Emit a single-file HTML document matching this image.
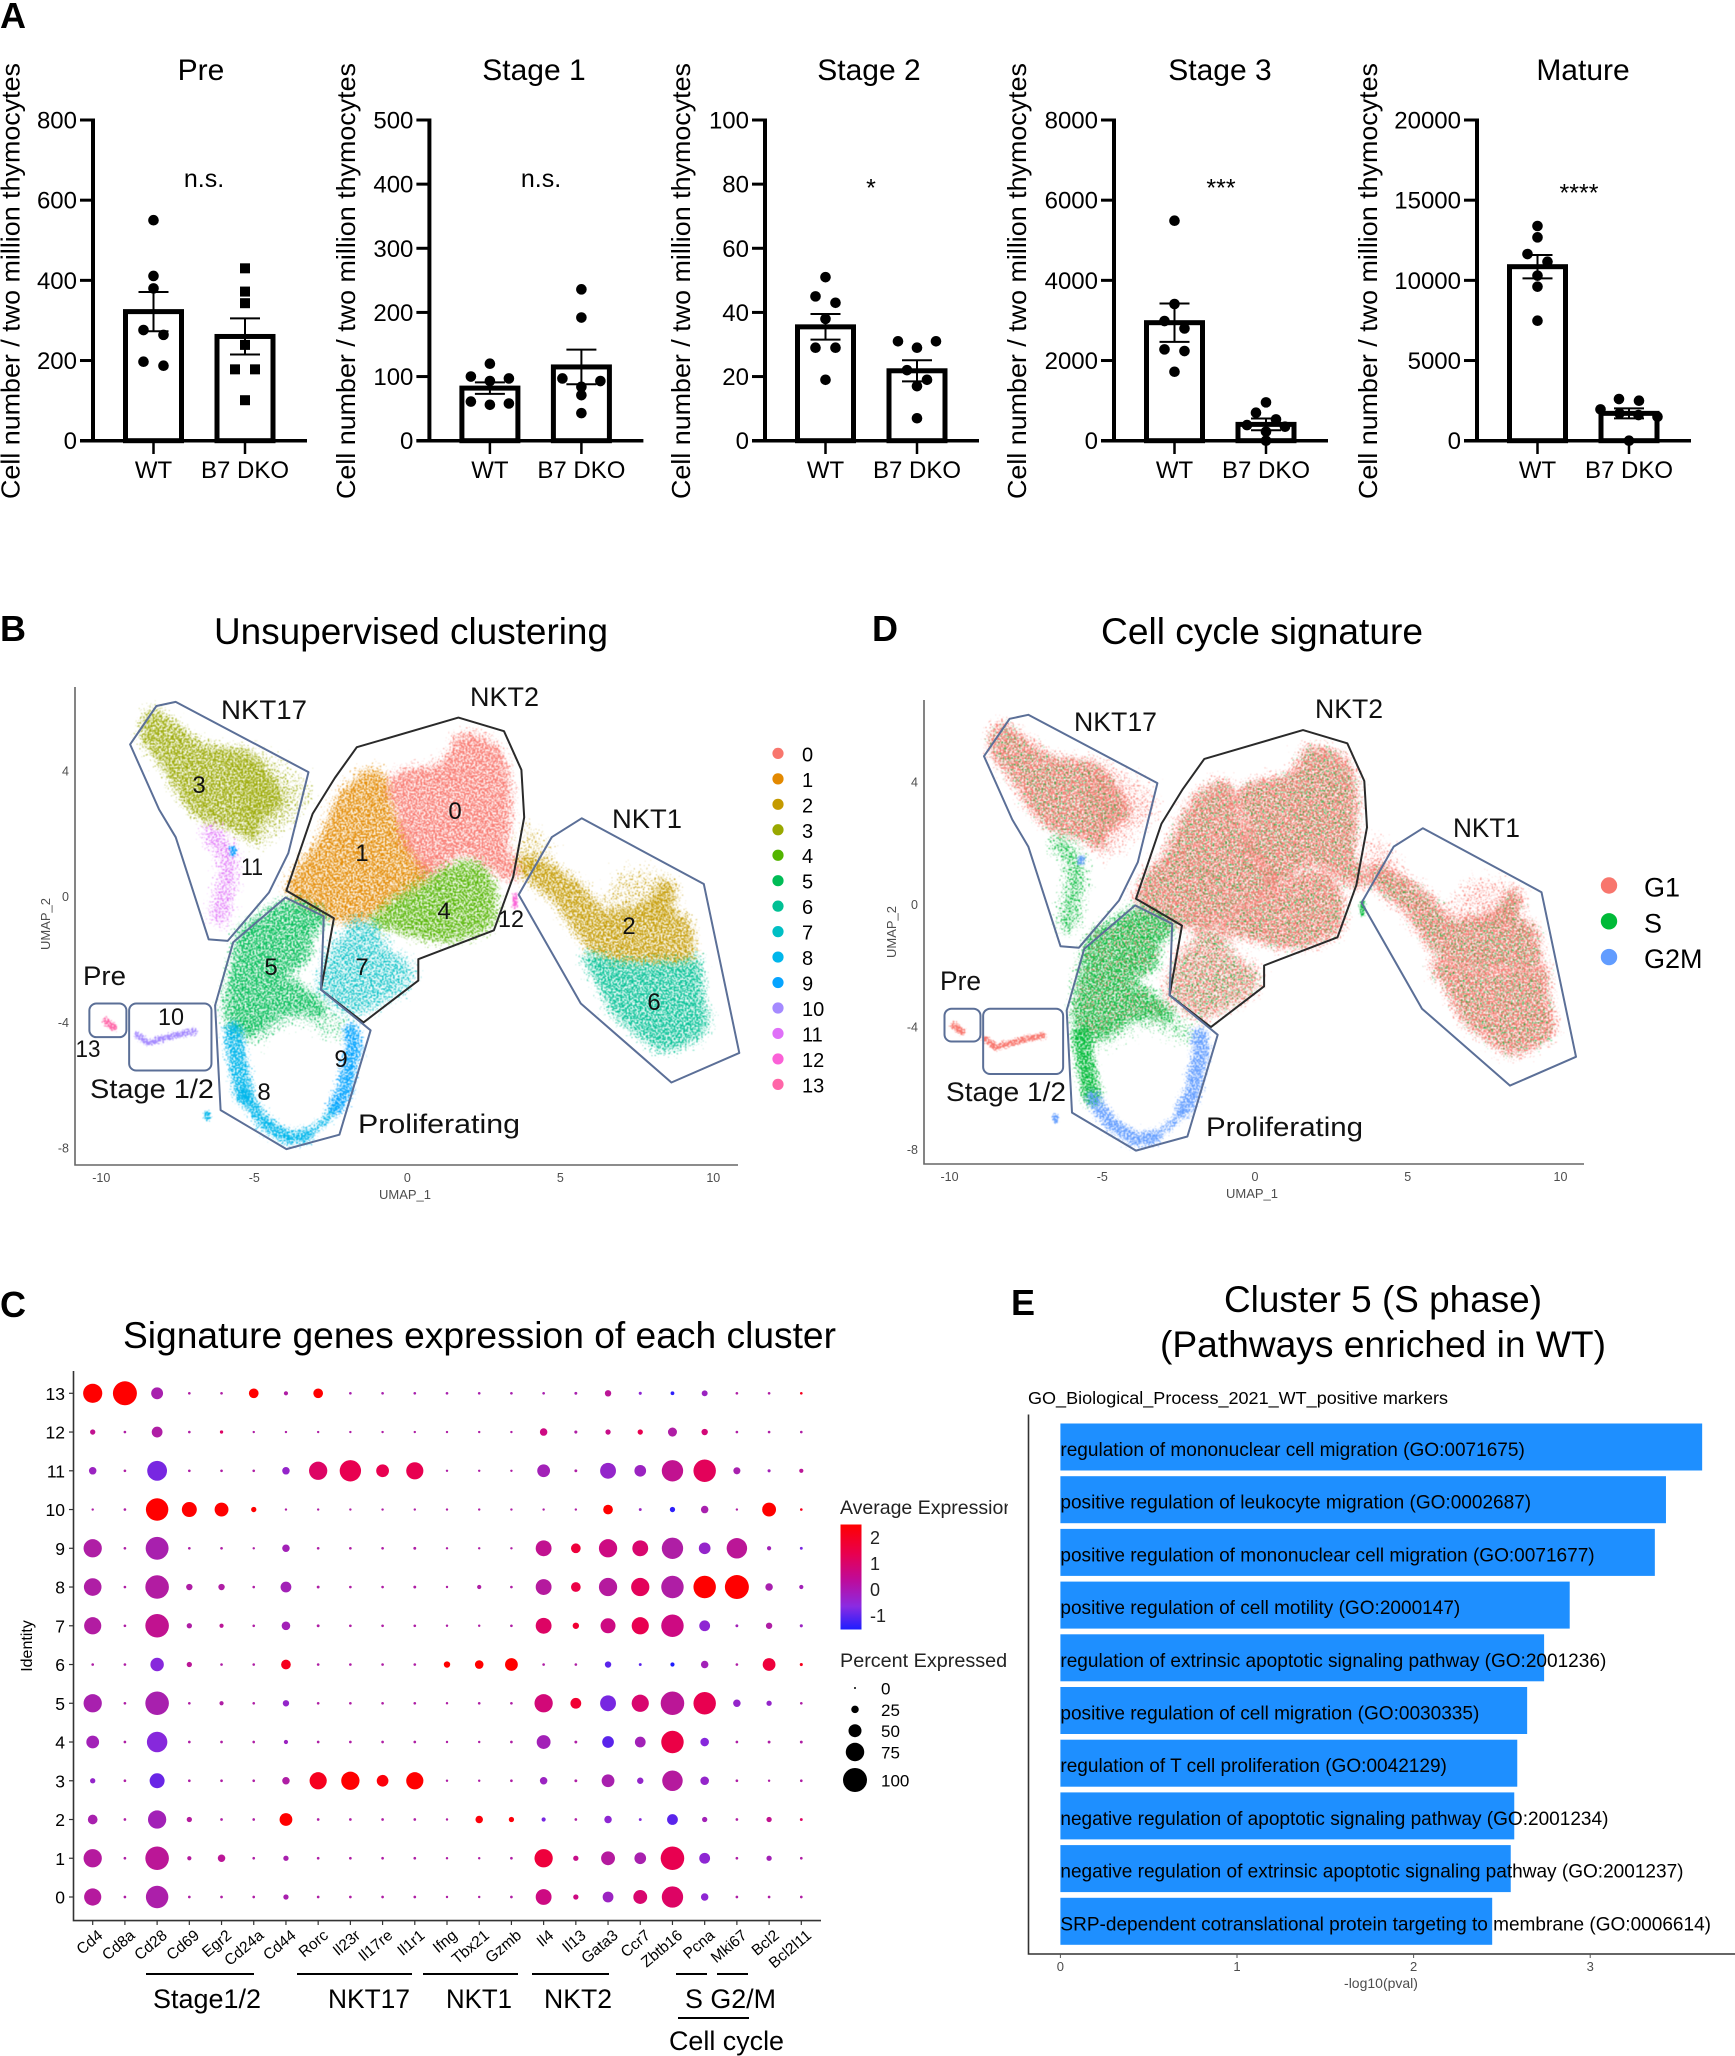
<!DOCTYPE html>
<html lang="en">
<head>
<meta charset="utf-8">
<title>NKT thymocyte figure</title>
<style>
html,body{margin:0;padding:0;background:#fff;}
svg{display:block;font-family:"Liberation Sans",Arial,sans-serif;}
text{fill:#000;}
.gray{fill:#4d4d4d;}
.ann{font-size:27px;fill:#111;}
.num{font-size:24px;fill:#111;text-anchor:middle;}
.panel{font-size:36px;font-weight:bold;}
.title{font-size:37px;}
.leg{font-size:18px;fill:#222;}
</style>
</head>
<body>
<svg id="fig" xmlns="http://www.w3.org/2000/svg" width="1735" height="2056" viewBox="0 0 1735 2056">
<defs id="defs">
<linearGradient id="exprGrad" x1="0" y1="0" x2="0" y2="1">
<stop offset="0" stop-color="#ff0000"/><stop offset=".28" stop-color="#e8004f"/><stop offset=".52" stop-color="#c00a98"/><stop offset=".78" stop-color="#8a2be2"/><stop offset="1" stop-color="#1e1eff"/>
</linearGradient>
<clipPath id="legendClip"><rect x="830" y="1490" width="178" height="40"/></clipPath>
</defs>
<rect width="1735" height="2056" fill="#fff"/>

<text class="panel" x="0" y="28">A</text>
<text class="panel" x="0" y="641">B</text>
<text class="panel" x="872" y="641">D</text>
<text class="panel" x="0" y="1317">C</text>
<text class="panel" x="1011" y="1315">E</text>

<text class="title" x="214" y="644" textLength="394" lengthAdjust="spacingAndGlyphs">Unsupervised clustering</text>
<text class="title" x="1101" y="644" textLength="322" lengthAdjust="spacingAndGlyphs">Cell cycle signature</text>
<text class="title" x="123" y="1348" textLength="713" lengthAdjust="spacingAndGlyphs">Signature genes expression of each cluster</text>
<text class="title" x="1224" y="1312" textLength="318" lengthAdjust="spacingAndGlyphs">Cluster 5 (S phase)</text>
<text class="title" x="1160" y="1357" textLength="446" lengthAdjust="spacingAndGlyphs">(Pathways enriched in WT)</text>

<g id="panelA"></g>

<g id="panelB"></g>
<g>
<text class="ann" x="221" y="719" textLength="86" lengthAdjust="spacingAndGlyphs">NKT17</text>
<text class="ann" x="470" y="706" textLength="69" lengthAdjust="spacingAndGlyphs">NKT2</text>
<text class="ann" x="612" y="828" textLength="70" lengthAdjust="spacingAndGlyphs">NKT1</text>
<text class="ann" x="83" y="985" textLength="43" lengthAdjust="spacingAndGlyphs">Pre</text>
<text class="ann" x="90" y="1098" textLength="124" lengthAdjust="spacingAndGlyphs">Stage 1/2</text>
<text class="ann" x="358" y="1133" textLength="162" lengthAdjust="spacingAndGlyphs">Proliferating</text>
<text class="num" x="171" y="1025" textLength="26" lengthAdjust="spacingAndGlyphs">10</text>
<text class="num" x="88" y="1057" textLength="25" lengthAdjust="spacingAndGlyphs">13</text>
<text class="num" x="199" y="793">3</text>
<text class="num" x="252" y="875" textLength="22" lengthAdjust="spacingAndGlyphs">11</text>
<text class="num" x="455" y="819">0</text>
<text class="num" x="362" y="861">1</text>
<text class="num" x="444" y="919">4</text>
<text class="num" x="271" y="975">5</text>
<text class="num" x="362" y="975">7</text>
<text class="num" x="511" y="927" textLength="26" lengthAdjust="spacingAndGlyphs">12</text>
<text class="num" x="629" y="934">2</text>
<text class="num" x="654" y="1010">6</text>
<text class="num" x="341" y="1067">9</text>
<text class="num" x="264" y="1100">8</text>
</g>

<g id="panelD"></g>
<g>
<text class="ann" x="1074" y="731" textLength="83" lengthAdjust="spacingAndGlyphs">NKT17</text>
<text class="ann" x="1315" y="718" textLength="68" lengthAdjust="spacingAndGlyphs">NKT2</text>
<text class="ann" x="1453" y="837" textLength="67" lengthAdjust="spacingAndGlyphs">NKT1</text>
<text class="ann" x="940" y="990" textLength="41" lengthAdjust="spacingAndGlyphs">Pre</text>
<text class="ann" x="946" y="1101" textLength="120" lengthAdjust="spacingAndGlyphs">Stage 1/2</text>
<text class="ann" x="1206" y="1136" textLength="157" lengthAdjust="spacingAndGlyphs">Proliferating</text>
</g>

<g id="panelC"></g>
<g>
<line x1="146" y1="1974" x2="254" y2="1974" stroke="#000" stroke-width="2"/>
<line x1="297" y1="1974" x2="412" y2="1974" stroke="#000" stroke-width="2"/>
<line x1="423" y1="1974" x2="518" y2="1974" stroke="#000" stroke-width="2"/>
<line x1="532" y1="1974" x2="609" y2="1974" stroke="#000" stroke-width="2"/>
<line x1="676" y1="1974" x2="707" y2="1974" stroke="#000" stroke-width="2"/>
<line x1="717" y1="1974" x2="748" y2="1974" stroke="#000" stroke-width="2"/>
<line x1="678" y1="2018" x2="749" y2="2018" stroke="#000" stroke-width="2"/>
<text x="153" y="2008" font-size="27" textLength="108" lengthAdjust="spacingAndGlyphs">Stage1/2</text>
<text x="328" y="2008" font-size="27" textLength="82" lengthAdjust="spacingAndGlyphs">NKT17</text>
<text x="446" y="2008" font-size="27" textLength="66" lengthAdjust="spacingAndGlyphs">NKT1</text>
<text x="544" y="2008" font-size="27" textLength="68" lengthAdjust="spacingAndGlyphs">NKT2</text>
<text x="685" y="2008" font-size="27" textLength="91" lengthAdjust="spacingAndGlyphs">S G2/M</text>
<text x="669" y="2050" font-size="27" textLength="115" lengthAdjust="spacingAndGlyphs">Cell cycle</text>
</g>

<g>
<text class="leg" x="840" y="1514" style="font-size:19.5px" clip-path="url(#legendClip)">Average Expression</text>
<rect x="840.5" y="1524.5" width="21" height="105" fill="url(#exprGrad)"/>
<text class="leg" x="870" y="1544">2</text>
<text class="leg" x="870" y="1570">1</text>
<text class="leg" x="870" y="1596">0</text>
<text class="leg" x="870" y="1622">-1</text>
<text class="leg" x="840" y="1667" style="font-size:19.8px">Percent Expressed</text>
</g>
<g id="sizeLegend"></g>

<g id="panelE">
<text x="1028" y="1404" font-size="17.5" textLength="420" lengthAdjust="spacingAndGlyphs">GO_Biological_Process_2021_WT_positive markers</text>
<text class="gray" x="1381" y="1988" font-size="14" text-anchor="middle">-log10(pval)</text>
</g>
</svg>

<script>
// ---------- Panel A data ----------
const panelTitles = ['Pre', 'Stage 1', 'Stage 2', 'Stage 3', 'Mature'];
const panelMax = [800, 500, 100, 8000, 20000];
const panelTicks = [
  [0, 200, 400, 600, 800],
  [0, 100, 200, 300, 400, 500],
  [0, 20, 40, 60, 80, 100],
  [0, 2000, 4000, 6000, 8000],
  [0, 5000, 10000, 15000, 20000]
];
const panelSignificance = ['n.s.', 'n.s.', '*', '***', '****'];
const genotypes = ['WT', 'B7 DKO'];
const wtMeans = [322, 82, 35.5, 2944, 10852];
const koMeans = [260, 115, 21.8, 407, 1705];
const wtSems = [49, 9, 4, 478, 728];
const koSems = [45, 27, 3.3, 146, 312];
const wtPoints = [
  [550, 411, 380, 276, 264, 197, 187],
  [120, 100, 97, 93, 61, 58, 56],
  [51, 45, 43, 38, 29, 29, 19],
  [5488, 3410, 2985, 2800, 2278, 2237, 1720],
  [13389, 12682, 11642, 11164, 10291, 9605, 7484]
];
const koPoints = [
  [430, 372, 343, 239, 178, 178, 101],
  [236, 192, 97, 93, 84, 71, 43],
  [31, 31, 29, 22, 19, 17, 7],
  [956, 698, 532, 390, 349, 225, 0],
  [2598, 2495, 1954, 1705, 1600, 1497, 0]
];

// ---------- UMAP data (UMAP_1, UMAP_2) ----------
const umapXTicks = [-10, -5, 0, 5, 10];
const umapYTicks = [-8, -4, 0, 4];
const cluster0 = [[1.76,5.09],[2.65,4.91],[3.10,4.40],[3.28,3.52],[3.28,2.39],[3.19,1.64],[3.55,0.88],[3.28,0.63],[2.48,1.13],[1.76,1.38],[0.68,0.75],[0.32,1.26],[-0.13,1.89],[-0.30,2.89],[-0.57,3.40],[-0.22,3.90],[1.04,4.15],[1.49,4.65]];
const cluster1 = [[-1.38,3.90],[-0.93,3.90],[-0.66,3.40],[-0.57,2.89],[-0.13,1.89],[0.32,1.13],[0.68,0.63],[-0.39,0],[-1.11,-0.50],[-1.83,-0.75],[-2.73,-0.50],[-3.80,0.13],[-3.53,0.88],[-2.91,1.64],[-2.55,2.39],[-2.10,3.27]];
const cluster2 = [[3.91,1.26],[4.81,0.88],[5.70,0.25],[6.42,-0.50],[7.32,-0.44],[8.04,-0.13],[8.39,0.44],[8.66,0.13],[8.57,-0.50],[9.11,-0.75],[9.29,-1.64],[9.11,-2.01],[8.04,-2.01],[7.14,-2.01],[6.24,-1.76],[5.70,-1.26],[4.99,-0.25],[4.27,0.38],[3.73,0.88]];
const cluster3 = [[-8.29,5.85],[-7.57,5.41],[-6.67,4.78],[-5.42,4.59],[-4.70,4.03],[-4.16,3.02],[-4.88,2.39],[-5.06,1.89],[-5.78,2.26],[-6.67,2.52],[-7.39,3.27],[-7.93,4.15],[-8.61,5.03],[-8.56,5.53]];
const cluster4 = [[1.94,1.07],[2.57,0.75],[2.83,-0.13],[2.65,-0.88],[1.76,-1.26],[0.86,-1.32],[-0.39,-1.01],[-1.11,-0.82],[-0.39,-0.13],[0.68,0.50],[1.40,0.88]];
const cluster5 = [[-3.80,-0.19],[-2.73,-0.63],[-3.17,-1.26],[-3.35,-2.01],[-4.16,-2.52],[-3.53,-2.83],[-2.73,-3.65],[-3.98,-3.65],[-5.06,-4.28],[-5.78,-4.03],[-5.87,-3.27],[-5.60,-1.89],[-5.42,-1.13],[-4.70,-0.63]];
const cluster6 = [[5.88,-1.89],[7.14,-2.14],[9.11,-2.14],[9.47,-2.01],[9.56,-3.14],[9.74,-3.90],[9.47,-4.40],[8.39,-4.84],[7.68,-4.40],[6.78,-3.65],[6.33,-2.77]];
const cluster7 = [[-1.65,-0.75],[-1.11,-1.01],[-0.75,-1.64],[0.05,-2.26],[-0.22,-2.89],[-1.11,-3.40],[-1.83,-3.65],[-2.55,-3.14],[-2.82,-2.89],[-2.55,-1.89],[-2.01,-1.26]];
const sparse3 = [[-5.42,4.59],[-3.26,3.40],[-4.34,2.01],[-5.06,1.76]];
const sparse2top = [[7.14,0.75],[8.48,0.50],[8.57,-0.63],[6.42,-0.50]];
const sparse2left = [[3.91,2.26],[4.63,1.38],[4.60,0.80],[3.73,0.88]];
const sparse5 = [[-3.98,-3.65],[-2.73,-3.65],[-1.90,-4.20],[-2.60,-4.40],[-3.60,-3.90],[-5.10,-4.60],[-5.60,-4.30]];
const cluster8upper = [[-5.69,-4.28],[-5.51,-5.41],[-5.33,-6.29]];
const cluster8lower = [[-5.33,-6.29],[-4.70,-7.17],[-3.89,-7.67],[-3.35,-7.61]];
const cluster8tail = [[-3.35,-7.61],[-2.73,-7.17],[-2.33,-6.67]];
const cluster9 = [[-1.83,-4.28],[-1.74,-4.78],[-1.92,-5.41],[-2.04,-6.16],[-2.33,-6.67]];
const cluster10 = [[-8.83,-4.40],[-8.47,-4.65],[-7.57,-4.40],[-6.94,-4.28]];
const cluster11 = [[-6.40,2.01],[-5.87,1.38],[-5.87,0.63],[-6.13,-0.63]];
const cluster12 = [[3.52,0.05],[3.52,-0.30]];
const cluster13 = [[-9.85,-3.95],[-9.60,-4.15]];
const stray9a = [[-5.69,1.50],[-5.69,1.40]];
const stray9b = [[-6.53,-6.92],[-6.53,-7.03]];

// cell regions and thin bands, with the cluster and phase they belong to
const regionShapes = [sparse3, sparse2top, sparse2left, sparse5, cluster3, cluster2, cluster6, cluster1, cluster0, cluster4, cluster5, cluster7];
const regionClusters = [3, 2, 2, 5, 3, 2, 6, 1, 0, 4, 5, 7];
const regionPhases = ['G1', 'G1', 'G1', 'S', 'G1', 'G1', 'G1', 'G1', 'G1', 'G1', 'S', 'G1'];
const regionDensity = ['sparse', 'sparse', 'sparse', 'sparse', 'dense', 'dense', 'dense', 'dense', 'dense', 'dense', 'dense', 'medium'];
const bandShapes = [cluster8upper, cluster8lower, cluster8tail, cluster9, cluster10, cluster11, cluster12, cluster13, stray9a, stray9b];
const bandClusters = [8, 8, 8, 9, 10, 11, 12, 13, 9, 8];
const bandPhases = ['S', 'G2M', 'G2M', 'G2M', 'G1', 'S', 'S', 'G1', 'G2M', 'G2M'];
const bandDensity = ['band', 'band', 'band', 'band', 'tight', 'medium', 'tight', 'tight', 'tight', 'tight'];

// hand-drawn annotation outlines, in UMAP units
const outlineNkt17 = [[-8.20,6.06],[-7.57,6.19],[-3.23,3.96],[-3.89,1.38],[-4.52,0.13],[-5.87,-1.41],[-6.49,-1.36],[-7.57,1.89],[-8.11,2.77],[-9.06,4.84]];
const outlineNkt2 = [[-1.65,4.75],[1.67,5.69],[3.16,5.26],[3.73,4.03],[3.82,2.52],[3.46,0.63],[2.83,-1.07],[0.36,-1.99],[0.36,-2.67],[-1.43,-4.0],[-2.82,-2.96],[-2.40,-0.69],[-3.95,0.19],[-3.09,2.64],[-2.37,3.77]];
const outlineNkt1 = [[5.70,2.49],[9.69,0.40],[10.85,-4.97],[8.63,-5.91],[5.67,-3.40],[3.64,0.06],[4.72,1.89]];
const outlineProliferating = [[-3.98,-0.03],[-2.73,-0.63],[-2.82,-2.96],[-1.20,-4.25],[-2.22,-7.57],[-3.95,-8.03],[-6.10,-6.79],[-6.28,-3.46],[-5.69,-1.45]];
const outlineShapes = [outlineNkt17, outlineNkt2, outlineNkt1, outlineProliferating];
const outlineDark = [false, true, false, false];
const boxPre = [-10.39, -9.18, -3.40, -4.47];
const boxStage12 = [-9.09, -6.40, -3.40, -5.53];

const clusterIds = ['0','1','2','3','4','5','6','7','8','9','10','11','12','13'];
const clusterColors = ['#F8766D','#E38900','#C49A00','#99A800','#53B400','#00BC56','#00C094','#00BFC4','#00B6EB','#06A4FF','#A58AFF','#DF70F8','#FB61D7','#FF66A8'];
const phaseIds = ['G1', 'S', 'G2M'];
const phaseColors = ['#F8766D', '#00BA38', '#619CFF'];

// ---------- Panel C data ----------
const genes = ['Cd4','Cd8a','Cd28','Cd69','Egr2','Cd24a','Cd44','Rorc','Il23r','Il17re','Il1r1','Ifng','Tbx21','Gzmb','Il4','Il13','Gata3','Ccr7','Zbtb16','Pcna','Mki67','Bcl2','Bcl2l11'];
const identities = [13,12,11,10,9,8,7,6,5,4,3,2,1,0];
const percentExpressed = [
  [78,100,45,3,3,35,10,35,3,3,3,3,3,3,3,4,20,5,8,18,3,3,3],
  [15,3,40,3,6,2,2,2,2,2,2,2,2,2,25,5,15,15,32,20,3,3,3],
  [25,3,81,3,3,3,25,74,88,49,69,2,2,2,49,4,63,44,88,93,23,5,10],
  [2,3,93,59,54,15,2,2,2,2,2,2,2,2,2,2,35,4,15,25,2,54,3],
  [74,3,95,3,3,2,25,3,3,3,4,2,2,2,63,35,74,63,88,44,84,10,4],
  [71,3,98,20,20,3,40,4,3,3,4,2,10,3,63,35,74,74,93,93,100,25,10],
  [69,3,98,15,10,3,30,4,3,3,3,2,2,3,63,20,59,69,93,40,4,20,5],
  [3,3,52,15,3,3,35,3,3,3,3,20,30,49,3,3,20,4,10,25,3,49,5],
  [74,3,98,3,10,3,20,3,3,3,3,2,3,3,74,40,63,69,98,93,25,15,3],
  [49,3,84,3,3,3,10,3,3,3,3,2,2,3,54,4,44,40,93,30,3,4,4],
  [15,3,59,3,3,3,25,69,74,44,69,2,2,3,25,4,49,20,84,30,3,2,3],
  [35,3,74,15,3,3,49,3,3,3,3,2,25,15,10,3,25,4,40,15,3,15,4],
  [74,3,98,10,25,3,15,3,3,3,3,2,2,3,74,15,54,44,98,40,3,15,3],
  [69,3,93,3,3,3,15,3,3,3,3,2,2,3,63,15,40,54,88,25,3,3,3]
];
const averageExpression = [
  [2,2,-.1,0,0,2,0,2,-.1,-.1,-.1,-.1,-.1,-.1,-.1,-.1,.2,-.5,-1.2,-.3,0,0,1.5],
  [.3,0,0,0,.8,0,0,0,0,0,0,0,0,0,.5,0,.4,1,0,.6,0,0,0],
  [-.3,0,-.7,0,0,0,-.4,.8,1,1,1,0,0,0,-.2,0,-.4,-.3,.3,.9,-.1,-.2,.2],
  [0,0,2,2,2,2,0,0,0,0,0,0,0,0,0,0,2,-.3,-1.2,-.1,0,2,1.5],
  [0,0,-.1,0,0,0,-.2,0,0,0,0,0,0,0,.3,1.2,.5,.7,0,-.4,.2,-.2,-.7],
  [0,0,.05,0,0,0,-.2,0,0,0,0,0,0,0,.1,1.1,.1,.9,0,2,2,-.1,-.2],
  [.05,0,.3,0,.2,0,-.2,0,0,0,0,0,0,0,.8,1.3,.5,1,.5,-.5,-.2,0,-.3],
  [0,0,-.6,.2,0,0,1.5,0,0,0,0,2,2,2,0,0,-.9,-.9,-1.3,-.2,0,1.2,1.5],
  [-.1,0,-.1,0,0,0,-.4,0,0,0,0,0,0,0,.6,1.3,-.7,.7,.2,1,-.4,-.4,0],
  [-.2,0,-.6,0,0,0,-.3,0,0,0,0,0,0,0,-.2,0,-.9,-.2,1.1,-.6,0,0,0],
  [-.4,0,-.8,0,0,0,0,1.5,1.8,1.7,1.8,0,0,0,-.3,0,-.1,-.4,.1,-.4,0,0,0],
  [-.1,0,-.2,.1,0,0,2,0,0,0,0,0,1.7,1.7,-.7,0,-.5,-.6,-.9,-.2,0,.3,.8],
  [.1,0,.2,.1,.2,0,-.1,0,0,0,0,0,0,0,1.2,.4,.1,-.1,1,-.5,0,-.2,0],
  [.1,0,-.05,0,0,0,-.1,0,0,0,0,0,0,0,.5,.5,-.3,.7,.8,-.5,0,0,0]
];
const sizeLegendValues = [0, 25, 50, 75, 100];

// ---------- Panel E data ----------
const pathwayLabels = [
  'regulation of mononuclear cell migration (GO:0071675)',
  'positive regulation of leukocyte migration (GO:0002687)',
  'positive regulation of mononuclear cell migration (GO:0071677)',
  'positive regulation of cell motility (GO:2000147)',
  'regulation of extrinsic apoptotic signaling pathway (GO:2001236)',
  'positive regulation of cell migration (GO:0030335)',
  'regulation of T cell proliferation (GO:0042129)',
  'negative regulation of apoptotic signaling pathway (GO:2001234)',
  'negative regulation of extrinsic apoptotic signaling pathway (GO:2001237)',
  'SRP-dependent cotranslational protein targeting to membrane (GO:0006614)'
];
const pathwayValues = [3.634, 3.429, 3.366, 2.884, 2.739, 2.643, 2.587, 2.570, 2.550, 2.445];
const pathwayTicks = [0, 1, 2, 3];

// ---------- helpers ----------
const NS = 'http://www.w3.org/2000/svg';
function mk(tag, attrs, parent, text) {
  const el = document.createElementNS(NS, tag);
  for (const k in attrs) el.setAttribute(k, attrs[k]);
  if (text !== undefined) el.textContent = text;
  parent.appendChild(el);
  return el;
}
function swarmOffsets(values, scale) {
  const order = values.map((v, i) => i).sort((a, b) => values[b] - values[a]);
  const out = new Array(values.length).fill(0);
  let i = 0;
  while (i < order.length) {
    let j = i + 1;
    while (j < order.length && (values[order[i]] - values[order[j]]) * scale < 10) j++;
    const n = j - i;
    const slots = n === 3 ? [-1, 1, 0] : Array.from({length: n}, (_, k) => k - (n - 1) / 2);
    for (let k = 0; k < n; k++) out[order[i + k]] = slots[k] * (n === 2 ? 20 : 19);
    i = j;
  }
  return out;
}

// ---------- Panel A ----------
(function () {
  const root = document.getElementById('panelA');
  const axisLeft = [93, 429.4, 765, 1114, 1477];
  const labelBase = [19.5, 355, 690, 1026, 1377];
  const titleCenter = [201, 534, 869, 1220, 1583];
  const sigCenter = [204, 541, 871, 1221, 1579];
  const sigBase = [187, 187, 196.5, 196.5, 201.5];
  const top = 120, bottom = 440.7;
  panelTitles.forEach(function (title, p) {
    const g = mk('g', {}, root);
    
    
    const ax = axisLeft[p];
    const y = v => bottom - (bottom - top) * v / panelMax[p];
    const ttl = mk('text', {x: titleCenter[p], y: 80, 'font-size': 30, 'text-anchor': 'middle'}, g, title);
    
    
    const yl = mk('text', {x: 0, y: 0, 'font-size': 26, transform: 'translate(' + labelBase[p] + ',499) rotate(-90)', textLength: 436, lengthAdjust: 'spacingAndGlyphs'}, g, 'Cell number / two million thymocytes');
    
    
    const yAxis = mk('line', {x1: ax, y1: top - 1.5, x2: ax, y2: bottom + 1.5, stroke: '#000', 'stroke-width': 4}, g);
    
    
    const xAxis = mk('line', {x1: ax - 13, y1: bottom, x2: ax + 214, y2: bottom, stroke: '#000', 'stroke-width': 3.5}, g);
    
    
    panelTicks[p].forEach(function (t) {
      const tk = mk('line', {x1: ax - 13, y1: y(t), x2: ax, y2: y(t), stroke: '#000', 'stroke-width': 3}, g);
      
      
      const lb = mk('text', {x: ax - 16, y: y(t) + 8.5, 'font-size': 24, 'text-anchor': 'end'}, g, String(t));
      
      
    });
    const means = [wtMeans[p], koMeans[p]];
    const sems = [wtSems[p], koSems[p]];
    const pts = [wtPoints[p], koPoints[p]];
    genotypes.forEach(function (name, s) {
      const cx = ax + (s === 0 ? 60.5 : 152);
      const tick = mk('line', {x1: cx, y1: bottom, x2: cx, y2: 454, stroke: '#000', 'stroke-width': 2.5}, g);
      
      
      const lab = mk('text', {x: cx, y: 478, 'font-size': 24, 'text-anchor': 'middle'}, g, name);
      
      
      const bar = mk('rect', {x: cx - 28, y: y(means[s]), width: 56, height: bottom - y(means[s]), fill: 'none', stroke: '#000', 'stroke-width': 5}, g);
      
      
      const hi = y(means[s] + sems[s]), lo = y(means[s] - sems[s]);
      const err = mk('path', {d: 'M' + cx + ' ' + hi + 'V' + lo + 'M' + (cx - 15) + ' ' + hi + 'H' + (cx + 15) + 'M' + (cx - 15) + ' ' + lo + 'H' + (cx + 15), fill: 'none', stroke: '#000', 'stroke-width': 2}, g);
      
      
      const offs = swarmOffsets(pts[s], (bottom - top) / panelMax[p]);
      pts[s].forEach(function (v, i) {
        let m;
        if (p === 0 && s === 1) {
          m = mk('rect', {x: cx + offs[i] - 5, y: y(v) - 5, width: 10, height: 10, fill: '#000'}, g);
        } else {
          m = mk('circle', {cx: cx + offs[i], cy: y(v), r: 5.3, fill: '#000'}, g);
        }
        
        
      });
    });
    const sig = mk('text', {x: sigCenter[p], y: sigBase[p], 'font-size': 25, 'text-anchor': 'middle'}, g, panelSignificance[p]);
    
    
  });
})();

// ---------- spray filters: turn a flat region into a speckled cell cloud ----------
function sprayFilter(id, seed, cut, scale, region) {
  const defs = document.getElementById('defs');
  const f = mk('filter', {id: id, filterUnits: 'userSpaceOnUse', x: region[0], y: region[1], width: region[2], height: region[3], 'color-interpolation-filters': 'sRGB'}, defs);
  mk('feTurbulence', {type: 'fractalNoise', baseFrequency: '0.62', numOctaves: 2, seed: seed, result: 'noise'}, f);
  mk('feColorMatrix', {in: 'noise', type: 'matrix', values: '1 0 0 0 0 0 1 0 0 0 0 0 1 0 0 0 0 0 0 1', result: 'field'}, f);
  mk('feDisplacementMap', {in: 'SourceGraphic', in2: 'field', scale: scale, xChannelSelector: 'R', yChannelSelector: 'G', result: 'scattered'}, f);
  mk('feColorMatrix', {in: 'noise', type: 'matrix', values: '0 0 0 0 0 0 0 0 0 0 0 0 0 0 0 0 0 0 -18 ' + cut, result: 'mask'}, f);
  mk('feComposite', {in: 'scattered', in2: 'mask', operator: 'in', result: 'speck'}, f);
  mk('feGaussianBlur', {in: 'speck', stdDeviation: '0.4'}, f);
}
const sprayLevels = {dense: [9.9, 34], medium: [9.2, 40], sparse: [7.6, 46], rare: [6.9, 34], band: [10.6, 22], tight: [11.5, 8]};
function makeSprays(prefix, region) {
  Object.keys(sprayLevels).forEach(function (level) {
    [0, 1, 2].forEach(function (s) {
      sprayFilter(prefix + level + s, 3 + s * 7, sprayLevels[level][0], sprayLevels[level][1], region);
    });
  });
}
makeSprays('b', [50, 680, 700, 490]);
makeSprays('d', [920, 690, 680, 480]);

// closed smooth curve through a shape's vertices
function smoothPath(shape, fx, fy) {
  const n = shape.length;
  const P = shape.map(p => [fx(p[0]), fy(p[1])]);
  let d = 'M' + P[0][0].toFixed(1) + ' ' + P[0][1].toFixed(1);
  for (let i = 0; i < n; i++) {
    const p0 = P[(i - 1 + n) % n], p1 = P[i], p2 = P[(i + 1) % n], p3 = P[(i + 2) % n];
    d += 'C' + (p1[0] + (p2[0] - p0[0]) / 6).toFixed(1) + ' ' + (p1[1] + (p2[1] - p0[1]) / 6).toFixed(1) + ' ' +
         (p2[0] - (p3[0] - p1[0]) / 6).toFixed(1) + ' ' + (p2[1] - (p3[1] - p1[1]) / 6).toFixed(1) + ' ' +
         p2[0].toFixed(1) + ' ' + p2[1].toFixed(1);
  }
  return d + 'Z';
}

// ---------- UMAP panels ----------
function drawUmap(root, opts) {
  const X = u => opts.x0 + opts.kx * u;
  const Y = v => opts.y0 - opts.ky * v;
  const OX = u => opts.ox0 + opts.okx * u;
  const pts = (shape, fx) => shape.map(p => fx(p[0]).toFixed(1) + ',' + Y(p[1]).toFixed(1)).join(' ');
  regionShapes.forEach(function (shape, i) {
    const col = opts.colorOf(regionClusters[i], regionPhases[i]);
    const grow = regionDensity[i] === 'sparse' ? 0 : 6;
    const cells = mk('path', {d: smoothPath(shape, X, Y), fill: col, stroke: col, 'stroke-width': grow, 'stroke-linejoin': 'round', filter: 'url(#' + opts.prefix + regionDensity[i] + (i % 3) + ')'}, root);
    
    
    if (opts.overlayOf && regionDensity[i] !== 'sparse') {
      const mix = mk('path', {d: smoothPath(shape, X, Y), fill: opts.overlayOf(regionPhases[i]), filter: 'url(#' + opts.prefix + 'rare' + ((i + 1) % 3) + ')'}, root);
      
      
    }
  });
  const bandWidths = [18, 13, 6, 15, 6, 16, 5, 7, 7, 6];
  bandShapes.forEach(function (shape, i) {
    const band = mk('polyline', {points: pts(shape, X), fill: 'none', stroke: opts.colorOf(bandClusters[i], bandPhases[i]), 'stroke-width': bandWidths[i], 'stroke-linecap': 'round', 'stroke-linejoin': 'round', filter: 'url(#' + opts.prefix + bandDensity[i] + (i % 3) + ')'}, root);
    
    
  });
  outlineShapes.forEach(function (shape, i) {
    const o = mk('polygon', {points: pts(shape, OX), fill: 'none', stroke: outlineDark[i] ? '#2a2a2a' : '#5b6f97', 'stroke-width': 2, 'stroke-linejoin': 'round'}, root);
    
    
  });
  [boxPre, boxStage12].forEach(function (b) {
    const r = mk('rect', {x: OX(b[0]), y: Y(b[2]), width: OX(b[1]) - OX(b[0]), height: Y(b[3]) - Y(b[2]), rx: 7, fill: 'none', stroke: '#5b6f97', 'stroke-width': 2}, root);
    
    
  });
  const axis = mk('path', {d: 'M' + opts.left + ' ' + opts.top + 'V' + opts.bottom + 'H' + opts.right, fill: 'none', stroke: '#666', 'stroke-width': 1.6}, root);
  
  
  umapXTicks.forEach(function (t) {
    const lb = mk('text', {x: X(t), y: opts.bottom + 17, 'font-size': 12.5, 'text-anchor': 'middle', class: 'gray'}, root, String(t));
    
    
  });
  umapYTicks.forEach(function (t) {
    const lb = mk('text', {x: opts.left - 6, y: Y(t) + 4.5, 'font-size': 12.5, 'text-anchor': 'end', class: 'gray'}, root, String(t));
    
    
  });
  const xt = mk('text', {x: opts.xTitleX, y: opts.bottom + 34, 'font-size': 13, 'text-anchor': 'middle', class: 'gray'}, root, 'UMAP_1');
  
  
  const yt = mk('text', {x: 0, y: 0, 'font-size': 13, 'text-anchor': 'middle', class: 'gray', transform: 'translate(' + opts.yTitleX + ',' + opts.yTitleY + ') rotate(-90)'}, root, 'UMAP_2');
  
  
}
drawUmap(document.getElementById('panelB'), {
  prefix: 'b',
  x0: 407.3, kx: 30.6, y0: 896.6, ky: 31.45, ox0: 407.3, okx: 30.6,
  left: 75, top: 687, bottom: 1165, right: 738, xTitleX: 405, yTitleX: 50, yTitleY: 924,
  colorOf: c => clusterColors[c]
});
drawUmap(document.getElementById('panelD'), {
  prefix: 'd',
  x0: 1255, kx: 30.55, y0: 904.5, ky: 30.65, ox0: 1253.4, okx: 29.73,
  left: 924, top: 700, bottom: 1164, right: 1584, xTitleX: 1252, yTitleX: 896, yTitleY: 932,
  colorOf: (c, ph) => phaseColors[phaseIds.indexOf(ph)],
  overlayOf: ph => ph === 'G1' ? phaseColors[1] : phaseColors[0]
});
// legends for the UMAP panels
(function () {
  const b = document.getElementById('panelB');
  clusterIds.forEach(function (id, i) {
    const yy = 753.4 + i * 25.46;
    const d = mk('circle', {cx: 778, cy: yy, r: 5.6, fill: clusterColors[i]}, b);
    
    
    const t = mk('text', {x: 802, y: yy + 8, 'font-size': 20, fill: '#222'}, b, id);
    
    
  });
  const dp = document.getElementById('panelD');
  phaseIds.forEach(function (id, i) {
    const yy = 885.5 + i * 35.8;
    const d = mk('circle', {cx: 1609, cy: yy, r: 8.2, fill: phaseColors[i]}, dp);
    
    
    const t = mk('text', {x: 1644, y: yy + 11, 'font-size': 27, fill: '#222'}, dp, id);
    
    
  });
})();

// ---------- Panel C ----------
function pctRadius(p) { return 1 + 0.11 * p; }
function exprColor(v) {
  const stops = [[-1.3,30,30,255],[-.6,135,40,220],[0,175,30,165],[.5,205,10,130],[1,232,0,80],[1.8,255,0,0]];
  if (v <= stops[0][0]) return 'rgb(30,30,255)';
  for (let i = 1; i < stops.length; i++) {
    if (v <= stops[i][0]) {
      const a = stops[i - 1], b = stops[i], t = (v - a[0]) / (b[0] - a[0]);
      return 'rgb(' + [1, 2, 3].map(k => Math.round(a[k] + (b[k] - a[k]) * t)).join(',') + ')';
    }
  }
  return 'rgb(255,0,0)';
}
(function () {
  const root = document.getElementById('panelC');
  const X = i => 92.7 + i * (801.3 - 92.7) / (genes.length - 1);
  const Y = id => 1897 - id * (1897 - 1393.3) / 13;
  const axis = mk('path', {d: 'M73.5 1371V1920.6H821', fill: 'none', stroke: '#333', 'stroke-width': 1.6}, root);
  
  
  genes.forEach(function (gene, i) {
    const tk = mk('line', {x1: X(i), y1: 1920.6, x2: X(i), y2: 1925, stroke: '#333', 'stroke-width': 1.2}, root);
    
    
    const lb = mk('text', {x: 0, y: 0, 'font-size': 15.5, fill: '#222', 'text-anchor': 'end', transform: 'translate(' + (X(i) + 11) + ',1937) rotate(-40)'}, root, gene);
    
    
  });
  identities.forEach(function (id, r) {
    const tk = mk('line', {x1: 69, y1: Y(id), x2: 73.5, y2: Y(id), stroke: '#333', 'stroke-width': 1.2}, root);
    
    
    const lb = mk('text', {x: 65, y: Y(id) + 6.5, 'font-size': 17.5, fill: '#222', 'text-anchor': 'end'}, root, String(id));
    
    
    genes.forEach(function (gene, c) {
      const d = mk('circle', {cx: X(c), cy: Y(id), r: pctRadius(percentExpressed[r][c]).toFixed(2), fill: exprColor(averageExpression[r][c])}, root);
      
      
    });
  });
  const yt = mk('text', {x: 0, y: 0, 'font-size': 16, fill: '#222', 'text-anchor': 'middle', transform: 'translate(32,1646) rotate(-90)'}, root, 'Identity');
  
  

  const lg = document.getElementById('sizeLegend');
  let yy = 1688;
  const gaps = [21.4, 21.3, 21.3, 28];
  sizeLegendValues.forEach(function (v, i) {
    const d = mk('circle', {cx: 855, cy: yy, r: pctRadius(v), fill: '#000'}, lg);
    
    
    const t = mk('text', {x: 881, y: yy + 6.5, 'font-size': 17, fill: '#222'}, lg, String(v));
    
    
    yy += gaps[i] || 0;
  });
})();

// ---------- Panel E ----------
(function () {
  const root = document.getElementById('panelE');
  const X = v => 1060.4 + 176.6 * v;
  const axis = mk('path', {d: 'M1028.5 1414.5V1954H1735', fill: 'none', stroke: '#333', 'stroke-width': 1.6}, root);
  
  
  pathwayTicks.forEach(function (t) {
    const tk = mk('line', {x1: X(t), y1: 1954, x2: X(t), y2: 1958, stroke: '#555', 'stroke-width': 1}, root);
    
    
    const lb = mk('text', {x: X(t), y: 1971, 'font-size': 13, 'text-anchor': 'middle', class: 'gray'}, root, String(t));
    
    
  });
  pathwayValues.forEach(function (v, i) {
    const cy = 1447 + i * 52.7;
    const bar = mk('rect', {x: X(0), y: cy - 23.5, width: X(v) - X(0), height: 47, fill: '#1E8FFF'}, root);
    
    
  });
  pathwayLabels.forEach(function (label, i) {
    const cy = 1447 + i * 52.7;
    const t = mk('text', {x: X(0), y: cy + 9, 'font-size': 19.05, fill: '#111'}, root, label);
    
    
  });
})();
</script>
</body>
</html>
